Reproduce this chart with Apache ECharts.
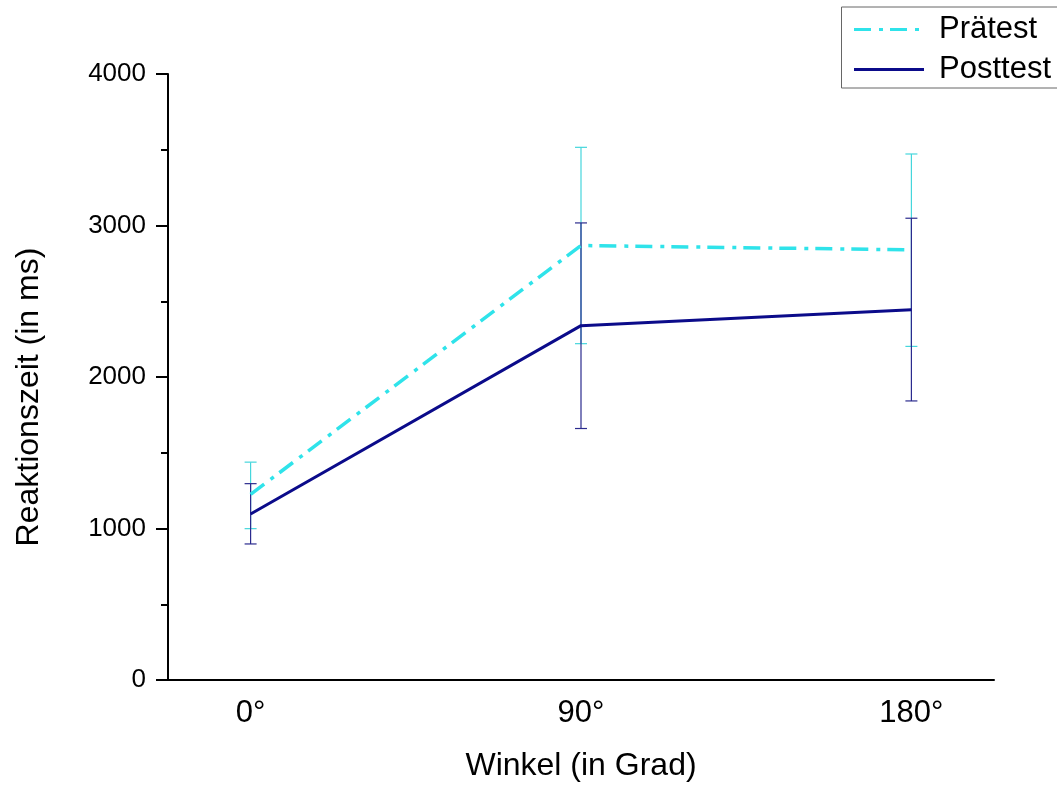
<!DOCTYPE html>
<html><head><meta charset="utf-8">
<script src="https://cdn.jsdelivr.net/npm/echarts@6/dist/echarts.min.js"></script>
<style>html,body{margin:0;padding:0;background:#fff}#c{width:1057px;height:787px}</style>
</head><body><div id="c"></div>
<script>
const categories = ['0°', '90°', '180°'];
const yTicks = [0, 1000, 2000, 3000, 4000];
const preMean = [1225, 2868, 2839];
const preLow = [999, 2220, 2202];
const preHigh = [1438, 3516, 3472];
const postMean = [1096, 2339, 2444];
const postLow = [898, 1660, 1842];
const postHigh = [1296, 3017, 3048];

const FONT = "'Liberation Sans', Arial, sans-serif";
const CYAN = '#2fe3ea';
const CYAN_ERR = '#45d6dc';
const NAVY = '#0b0b8a';
const NAVY_ERR = '#2b2b8e';

function errData(low, high) {
  return categories.map((c, i) => [i, low[i], high[i]]);
}
function lineData(vals) {
  return categories.map((c, i) => [i, vals[i]]);
}
function errRender(color) {
  return function (params, api) {
    const x = api.value(0), lo = api.value(1), hi = api.value(2);
    const pLo = api.coord([x, lo]);
    const pHi = api.coord([x, hi]);
    const hw = 6;
    const st = { stroke: color, lineWidth: 1.2 };
    return {
      type: 'group',
      children: [
        { type: 'line', shape: { x1: pLo[0], y1: pLo[1], x2: pHi[0], y2: pHi[1] }, style: st },
        { type: 'line', shape: { x1: pLo[0] - hw, y1: pLo[1], x2: pLo[0] + hw, y2: pLo[1] }, style: st },
        { type: 'line', shape: { x1: pHi[0] - hw, y1: pHi[1], x2: pHi[0] + hw, y2: pHi[1] }, style: st }
      ]
    };
  };
}

const chart = echarts.init(document.getElementById('c'), null, { renderer: 'canvas' });
chart.setOption({
  backgroundColor: '#ffffff',
  animation: false,
  textStyle: { fontFamily: FONT },
  grid: { left: 168, right: 63, top: 74, bottom: 106, containLabel: false },
  legend: {
    orient: 'vertical',
    right: -14,
    top: 7,
    data: ['Prätest', 'Posttest'],
    itemWidth: 70,
    itemHeight: 14,
    itemGap: 9,
    padding: [7, 20, 3, 11],
    borderColor: '#666',
    borderWidth: 1,
    itemStyle: { opacity: 0 },
    lineStyle: { width: 3 },
    textStyle: { fontFamily: FONT, fontSize: 31, color: '#000', padding: [0, 0, 0, 10] }
  },
  xAxis: {
    type: 'value',
    min: -0.25,
    max: 2.25,
    interval: 0.25,
    name: 'Winkel (in Grad)',
    nameLocation: 'middle',
    nameGap: 70,
    nameTextStyle: { fontFamily: FONT, fontSize: 32, color: '#000' },
    axisLine: { show: true, onZero: false, lineStyle: { color: '#000', width: 2 } },
    axisTick: { show: false },
    splitLine: { show: false },
    axisLabel: {
      margin: 18,
      fontFamily: FONT,
      fontSize: 31,
      color: '#000',
      showMinLabel: true,
      showMaxLabel: true,
      formatter: function (v) {
        const r = Math.round(v);
        return Math.abs(v - r) < 1e-6 && categories[r] !== undefined ? categories[r] : '';
      }
    }
  },
  yAxis: {
    type: 'value',
    min: yTicks[0],
    max: yTicks[yTicks.length - 1],
    interval: yTicks[1] - yTicks[0],
    name: 'Reaktionszeit (in ms)',
    nameLocation: 'middle',
    nameGap: 123,
    nameTextStyle: { fontFamily: FONT, fontSize: 32, color: '#000', padding: [0, 40, 0, 0] },
    axisLine: { show: true, onZero: false, lineStyle: { color: '#000', width: 2 } },
    axisTick: { show: true, inside: false, length: 12, lineStyle: { color: '#000', width: 2 } },
    minorTick: { show: true, splitNumber: 2, length: 7, lineStyle: { color: '#000', width: 2 } },
    splitLine: { show: false },
    minorSplitLine: { show: false },
    axisLabel: {
      margin: 22, fontFamily: FONT, fontSize: 26, color: '#000',
      formatter: function (v) { return String(v); }
    }
  },
  series: [
    {
      name: 'Prätest SD', type: 'custom', renderItem: errRender(CYAN_ERR),
      data: errData(preLow, preHigh), encode: { x: 0, y: [1, 2] }, z: 2, silent: true
    },
    {
      name: 'Posttest SD', type: 'custom', renderItem: errRender(NAVY_ERR),
      data: errData(postLow, postHigh), encode: { x: 0, y: [1, 2] }, z: 3, silent: true
    },
    {
      name: 'Prätest', type: 'line', data: lineData(preMean), symbol: 'none', z: 4,
      color: CYAN,
      lineStyle: { color: CYAN, width: 3.5, type: [17, 8, 4, 7], cap: 'butt' }
    },
    {
      name: 'Posttest', type: 'line', data: lineData(postMean), symbol: 'none', z: 5,
      color: NAVY,
      lineStyle: { color: NAVY, width: 3, type: 'solid' }
    }
  ]
});
</script>
</body></html>
